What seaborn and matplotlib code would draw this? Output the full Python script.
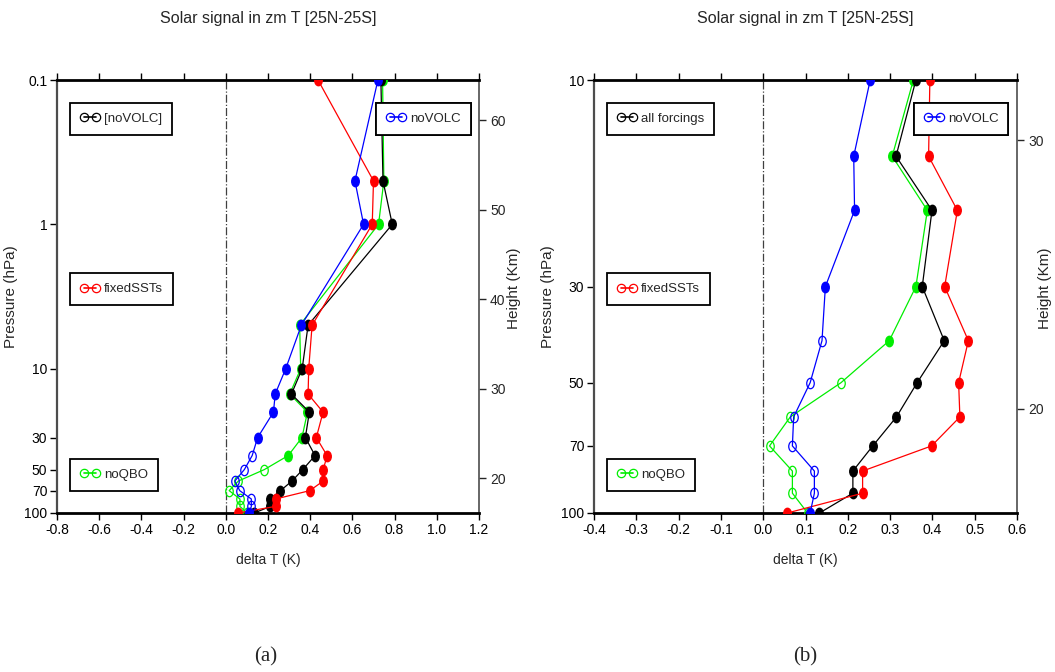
import numpy as np
import pandas as pd
import matplotlib
matplotlib.use("Agg")
import matplotlib.pyplot as plt
import seaborn as sns
from matplotlib.path import Path
from matplotlib.transforms import Affine2D
from matplotlib.lines import Line2D

# ---- data ----
# panel (a): 0.1 - 100 hPa
levels_a = [0.1, 0.5, 1, 5, 10, 15, 20, 30, 40, 50, 60, 70, 80, 90, 100]
black_a = [0.735, 0.745, 0.789, 0.390, 0.362, 0.311, 0.396, 0.377, 0.423, 0.365, 0.314, 0.259, 0.211, 0.211, 0.135]
red_a = [0.437, 0.700, 0.694, 0.409, 0.393, 0.390, 0.461, 0.429, 0.480, 0.462, 0.462, 0.398, 0.236, 0.236, 0.057]
green_a = [0.743, 0.749, 0.724, 0.350, 0.355, 0.303, 0.387, 0.361, 0.296, 0.183, 0.060, 0.016, 0.067, 0.067, 0.100]
blue_a = [0.721, 0.612, 0.653, 0.358, 0.284, 0.234, 0.226, 0.151, 0.125, 0.088, 0.043, 0.066, 0.121, 0.121, 0.110]

# panel (b): 10 - 100 hPa
levels_b = [10, 15, 20, 30, 40, 50, 60, 70, 80, 90, 100]
black_b = [0.361, 0.314, 0.399, 0.376, 0.428, 0.364, 0.315, 0.259, 0.212, 0.212, 0.133]
red_b = [0.394, 0.391, 0.459, 0.429, 0.485, 0.462, 0.465, 0.398, 0.235, 0.235, 0.057]
green_b = [0.355, 0.305, 0.388, 0.361, 0.298, 0.184, 0.064, 0.015, 0.069, 0.069, 0.105]
blue_b = [0.253, 0.214, 0.216, 0.147, 0.139, 0.111, 0.072, 0.069, 0.121, 0.121, 0.111]

# levels where the signal is not significant (open markers)
open_blue = [40, 50, 60, 70, 80, 90]
open_green = [50, 60, 70, 80, 90, 100]

labels_a = ["[noVOLC]", "fixedSSTs", "noQBO", "noVOLC"]
labels_b = ["all forcings", "fixedSSTs", "noQBO", "noVOLC"]
colors = ["black", "#ff0000", "#00ee00", "#0000ff"]

xticks_a = [-0.8, -0.6, -0.4, -0.2, 0.0, 0.2, 0.4, 0.6, 0.8, 1.0, 1.2]
xticks_b = [-0.4, -0.3, -0.2, -0.1, 0.0, 0.1, 0.2, 0.3, 0.4, 0.5, 0.6]
pticks_a = [0.1, 1, 10, 30, 50, 70, 100]
pticks_b = [10, 30, 50, 70, 100]
hticks_a = [20, 30, 40, 50, 60]
hticks_b = [20, 30]

sns.set_theme(style="white")
plt.rcParams["font.family"] = ["Liberation Sans", "DejaVu Sans"]

# slightly tall ellipse marker like the original
ell = Path.unit_circle().transformed(Affine2D().scale(0.72, 1.0))


def p2h(p):
    p = np.clip(np.asarray(p, dtype=float), 1e-6, None)
    return 7.0 * np.log(1000.0 / p)


def h2p(h):
    return 1000.0 * np.exp(-np.asarray(h, dtype=float) / 7.0)


def draw_panel(ax, levels, series, names, xticks, pticks, hticks, xlim, ylab_x, hlab_x):
    df = pd.concat([pd.DataFrame({"p": levels, "dT": vals, "run": name})
                    for name, vals in zip(names, series)])
    order = [names[2], names[0], names[1], names[3]]  # draw order
    pal = dict(zip(names, colors))
    for k, name in enumerate(order):
        sub = df[df["run"] == name]
        sns.lineplot(data=sub, x="dT", y="p", orient="y", estimator=None, sort=True,
                     color=pal[name], lw=0.9, ax=ax, zorder=3 + k, legend=False)
        opens = open_blue if name == names[3] else (open_green if name == names[2] else [])
        closed = sub[~sub["p"].isin(opens)]
        hollow = sub[sub["p"].isin(opens)]
        ax.plot(closed["dT"], closed["p"], ls="none", marker=ell, ms=7.5,
                color=pal[name], mec=pal[name], zorder=3 + k)
        ax.plot(hollow["dT"], hollow["p"], ls="none", marker=ell, ms=7.5,
                mfc="none", mec=pal[name], mew=0.9, zorder=3 + k)

    ax.axvline(0, color="0.25", ls="-.", lw=0.9, zorder=1)
    ax.set_yscale("log")
    ax.set_ylim(100, pticks[0])
    ax.set_xlim(*xlim)
    ax.set_xticks(xticks)
    ax.set_xticklabels([f"{t:.1f}" for t in xticks])
    ax.set_yticks(pticks)
    ax.set_yticklabels([f"{t:g}" for t in pticks])
    ax.minorticks_off()
    ax.tick_params(axis="both", direction="out", length=5, width=1, labelsize=10,
                   colors="black", pad=2)
    ax.tick_params(axis="x", top=True, bottom=True)
    ax.tick_params(axis="y", left=True, right=False)
    ax.set_xlabel("delta T (K)", fontsize=10, labelpad=12)
    ax.set_ylabel("Pressure (hPa)", fontsize=11)
    ax.yaxis.set_label_coords(ylab_x, 0.5)
    for s in ["top", "bottom"]:
        ax.spines[s].set_linewidth(2)
        ax.spines[s].set_color("black")
    ax.spines["left"].set_linewidth(1.6)
    ax.spines["left"].set_color("0.3")
    ax.spines["right"].set_visible(False)

    sec = ax.secondary_yaxis("right", functions=(p2h, h2p))
    sec.set_yticks(hticks)
    sec.set_yticklabels([str(h) for h in hticks])
    sec.minorticks_off()
    sec.tick_params(direction="out", length=5, width=1, labelsize=10, pad=3)
    sec.spines["right"].set_linewidth(1.2)
    sec.spines["right"].set_color("0.3")
    sec.set_ylabel("Height (Km)", fontsize=11)
    sec.yaxis.set_label_coords(hlab_x, 0.52, transform=ax.transAxes)

    # one framed legend box per run
    spots = [(0.031, 0.947), (0.031, 0.554), (0.031, 0.125), (0.757, 0.947)]
    for name, c, (bx, by) in zip(names, colors, spots):
        h = Line2D([], [], color=c, lw=1.2, marker="o", ms=6, mfc="none", mec=c, mew=0.9)
        leg = ax.legend([h], [name], loc="upper left", bbox_to_anchor=(bx, by),
                        numpoints=2, handlelength=1.5, handletextpad=0.3,
                        borderpad=0.75, borderaxespad=0, fontsize=9.5,
                        frameon=True, fancybox=False, framealpha=1)
        leg.get_frame().set_edgecolor("black")
        leg.get_frame().set_linewidth(1.3)
        leg.set_zorder(20)
        ax.add_artist(leg)


fig = plt.figure(figsize=(10.55, 6.72), dpi=100)
ax1 = fig.add_axes([57 / 1055, 159 / 672, 422 / 1055, 433 / 672])
ax2 = fig.add_axes([594 / 1055, 159 / 672, 423 / 1055, 433 / 672])

draw_panel(ax1, levels_a, [black_a, red_a, green_a, blue_a], labels_a,
           xticks_a, pticks_a, hticks_a, (-0.8, 1.2), -0.092, 1.066)
draw_panel(ax2, levels_b, [black_b, red_b, green_b, blue_b], labels_b,
           xticks_b, pticks_b, hticks_b, (-0.4, 0.6), -0.092, 1.05)

for xc in (268, 805):
    fig.text(xc / 1055, 1 - 18 / 672, "Solar signal in zm T [25N-25S]",
             ha="center", va="center", fontsize=11.5)
fig.text(266 / 1055, 1 - 657 / 672, "(a)", ha="center", va="center", fontsize=15,
         family=["Liberation Serif", "DejaVu Serif"])
fig.text(805 / 1055, 1 - 657 / 672, "(b)", ha="center", va="center", fontsize=15,
         family=["Liberation Serif", "DejaVu Serif"])

fig.savefig("out.png", dpi=100)
